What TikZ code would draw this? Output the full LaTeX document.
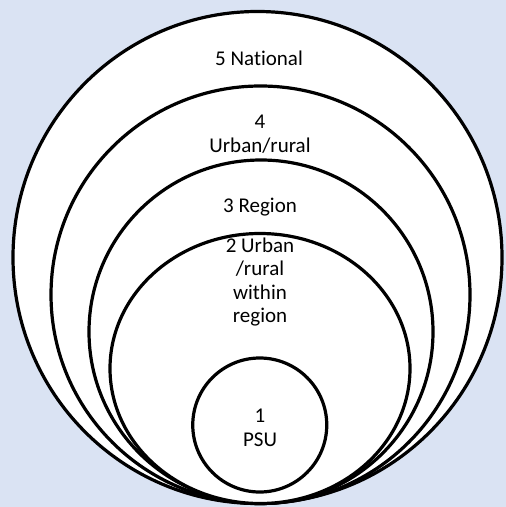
\documentclass[tikz,border=0pt]{standalone}
\usepackage{fontspec}
\setmainfont[Ligatures=NoCommon]{Carlito}
\definecolor{bgblue}{HTML}{DAE3F3}
\begin{document}
\begin{tikzpicture}[x=1bp,y=-1bp,
  ring/.style={draw=black,line width=3.2bp,fill=white},
  lbl/.style={align=center,inner sep=0pt,font=\fontsize{21bp}{23.5bp}\selectfont}]
\fill[bgblue] (0,0) rectangle (506,507);
\useasboundingbox (0,0) rectangle (506,507);
\draw[ring] (257.5,257.5) ellipse [x radius=244.5,y radius=246];
\draw[ring] (260.5,294.75) ellipse [x radius=209.5,y radius=208.75];
\draw[ring] (261,331.75) ellipse [x radius=172,y radius=171.75];
\draw[ring] (260,368.5) ellipse [x radius=150,y radius=135];
\draw[ring] (259.75,425) ellipse [x radius=67,y radius=67];
\node[lbl] (n5) at (259,58) {5 National};
\node[lbl] (n4) at (260,134) {4\\Urban/rural};
\node[lbl] (n3) at (260,207) {3 Region};
\node[lbl] (n2) at (260,282) {2 Urban\\/rural\\within\\region};
\node[lbl] (n1) at (260,428) {1\\PSU};
\end{tikzpicture}
\end{document}
